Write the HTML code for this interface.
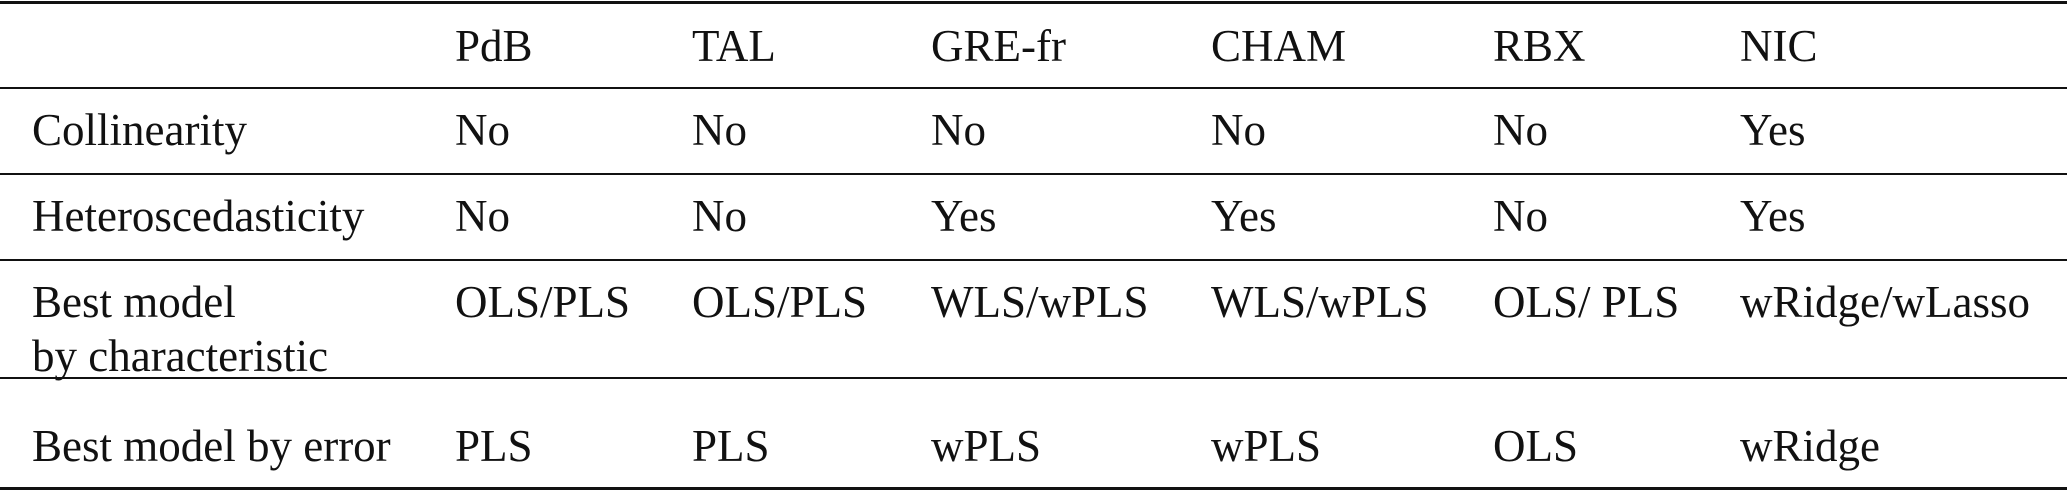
<!DOCTYPE html>
<html><head><meta charset="utf-8"><style>
html,body{margin:0;padding:0;background:#fff;}
body{width:2067px;height:492px;position:relative;overflow:hidden;font-family:"Liberation Serif",serif;font-size:45px;color:#111;}
.l{position:absolute;left:0;width:2067px;background:#111;}
.t{position:absolute;line-height:1;white-space:nowrap;}
</style></head><body>
<div class="l" style="top:1px;height:3px"></div>
<div class="l" style="top:87px;height:2px"></div>
<div class="l" style="top:173px;height:2px"></div>
<div class="l" style="top:259px;height:2px"></div>
<div class="l" style="top:377px;height:2px"></div>
<div class="l" style="top:487px;height:3px"></div>

<div class="t" style="left:455px;top:24px">PdB</div>
<div class="t" style="left:692px;top:24px">TAL</div>
<div class="t" style="left:931px;top:24px">GRE-fr</div>
<div class="t" style="left:1211px;top:24px">CHAM</div>
<div class="t" style="left:1493px;top:24px">RBX</div>
<div class="t" style="left:1740px;top:24px">NIC</div>

<div class="t" style="left:32px;top:108px">Collinearity</div>
<div class="t" style="left:455px;top:108px">No</div>
<div class="t" style="left:692px;top:108px">No</div>
<div class="t" style="left:931px;top:108px">No</div>
<div class="t" style="left:1211px;top:108px">No</div>
<div class="t" style="left:1493px;top:108px">No</div>
<div class="t" style="left:1740px;top:108px">Yes</div>

<div class="t" style="left:32px;top:194px">Heteroscedasticity</div>
<div class="t" style="left:455px;top:194px">No</div>
<div class="t" style="left:692px;top:194px">No</div>
<div class="t" style="left:931px;top:194px">Yes</div>
<div class="t" style="left:1211px;top:194px">Yes</div>
<div class="t" style="left:1493px;top:194px">No</div>
<div class="t" style="left:1740px;top:194px">Yes</div>

<div class="t" style="left:32px;top:280px">Best model</div>
<div class="t" style="left:32px;top:334px">by characteristic</div>
<div class="t" style="left:455px;top:280px">OLS/PLS</div>
<div class="t" style="left:692px;top:280px">OLS/PLS</div>
<div class="t" style="left:931px;top:280px">WLS/wPLS</div>
<div class="t" style="left:1211px;top:280px">WLS/wPLS</div>
<div class="t" style="left:1493px;top:280px">OLS/ PLS</div>
<div class="t" style="left:1740px;top:280px">wRidge/wLasso</div>

<div class="t" style="left:32px;top:424px">Best model by error</div>
<div class="t" style="left:455px;top:424px">PLS</div>
<div class="t" style="left:692px;top:424px">PLS</div>
<div class="t" style="left:931px;top:424px">wPLS</div>
<div class="t" style="left:1211px;top:424px">wPLS</div>
<div class="t" style="left:1493px;top:424px">OLS</div>
<div class="t" style="left:1740px;top:424px">wRidge</div>
</body></html>
